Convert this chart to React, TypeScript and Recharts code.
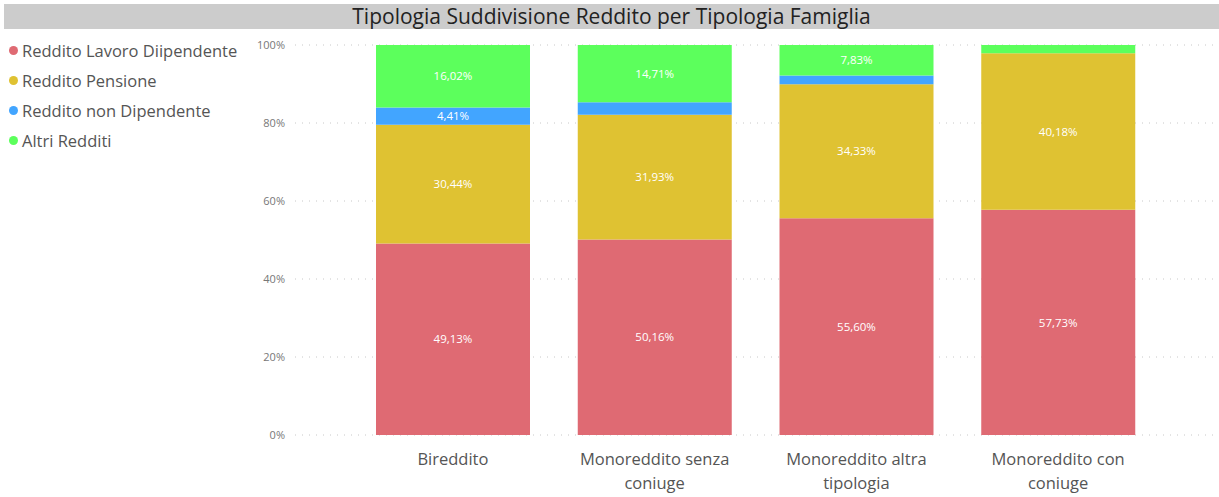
import React from "react";
import {
  BarChart,
  Bar,
  XAxis,
  YAxis,
  CartesianGrid,
  LabelList,
  Text,
} from "recharts";

const categories = [
  "Bireddito",
  "Monoreddito senza coniuge",
  "Monoreddito altra tipologia",
  "Monoreddito con coniuge",
];
const lavoroDipendente = [49.13, 50.16, 55.6, 57.73];
const pensione = [30.44, 31.93, 34.33, 40.18];
const nonDipendente = [4.41, 3.2, 2.24, 0];
const altriRedditi = [16.02, 14.71, 7.83, 2.09];
const yTicks = [0, 20, 40, 60, 80, 100];

const series = [
  { key: "lavoro", name: "Reddito Lavoro Diipendente", color: "#df6a73" },
  { key: "pensione", name: "Reddito Pensione", color: "#dfc232" },
  { key: "nonDip", name: "Reddito non Dipendente", color: "#42a5ff" },
  { key: "altri", name: "Altri Redditi", color: "#5cff5c" },
];

const data = categories.map((name, i) => ({
  name,
  lavoro: lavoroDipendente[i],
  pensione: pensione[i],
  nonDip: nonDipendente[i],
  altri: altriRedditi[i],
}));

const FONT = "'Open Sans', 'Noto Sans', sans-serif";

const fmtLabel = (v: any) =>
  v >= 4 ? `${Number(v).toFixed(2).replace(".", ",")}%` : "";

const CategoryTick = (props: any) => {
  const { x, y, payload } = props;
  return (
    <Text
      x={x}
      y={y + 10}
      width={172}
      textAnchor="middle"
      verticalAnchor="start"
      lineHeight={24}
      fill="#555"
      style={{ fontSize: 16.5, fontFamily: FONT }}
    >
      {payload.value}
    </Text>
  );
};

export default function App() {
  return (
    <div
      style={{
        position: "absolute",
        left: 0,
        top: 0,
        width: 1219,
        height: 497,
        background: "#fff",
        fontFamily: FONT,
      }}
    >
      <div
        style={{
          position: "absolute",
          left: 4,
          top: 4,
          width: 1215,
          height: 25,
          background: "#cccccc",
          textAlign: "center",
          fontSize: 21,
          lineHeight: "25px",
          color: "#222",
        }}
      >
        Tipologia Suddivisione Reddito per Tipologia Famiglia
      </div>
      {/* legend */}
      <div style={{ position: "absolute", left: 9, top: 35 }}>
        {series.map((s) => (
          <div
            key={s.key}
            style={{
              display: "flex",
              alignItems: "center",
              height: 30,
              fontSize: 16.5,
              color: "#555",
            }}
          >
            <span
              style={{
                width: 9,
                height: 9,
                borderRadius: "50%",
                background: s.color,
                display: "inline-block",
                marginRight: 4,
              }}
            />
            {s.name}
          </div>
        ))}
      </div>
      <div style={{ position: "absolute", left: 0, top: 0 }}>
        <BarChart
          width={1219}
          height={497}
          data={data}
          margin={{ top: 45, right: 0, bottom: 0, left: 250 }}
          barCategoryGap={24}
        >
          <CartesianGrid
            vertical={false}
            stroke="#c8c8c8"
            strokeDasharray="1 6"
          />
          <XAxis
            dataKey="name"
            axisLine={false}
            tickLine={false}
            interval={0}
            padding={{ left: 57, right: 60 }}
            tick={<CategoryTick />}
            height={62}
          />
          <YAxis
            width={45}
            domain={[0, 100]}
            ticks={yTicks}
            axisLine={false}
            tickLine={false}
            tickMargin={4}
            tickFormatter={(v) => `${v}%`}
            tick={{ fontSize: 11, fill: "#777", fontFamily: FONT }}
          />
          {series.map((s) => (
            <Bar
              key={s.key}
              dataKey={s.key}
              name={s.name}
              stackId="a"
              fill={s.color}
              isAnimationActive={false}
            >
              <LabelList
                dataKey={s.key}
                position="center"
                formatter={fmtLabel}
                fill="#fff"
                style={{ fontSize: 11.5, fontFamily: FONT }}
              />
            </Bar>
          ))}
        </BarChart>
      </div>
    </div>
  );
}
